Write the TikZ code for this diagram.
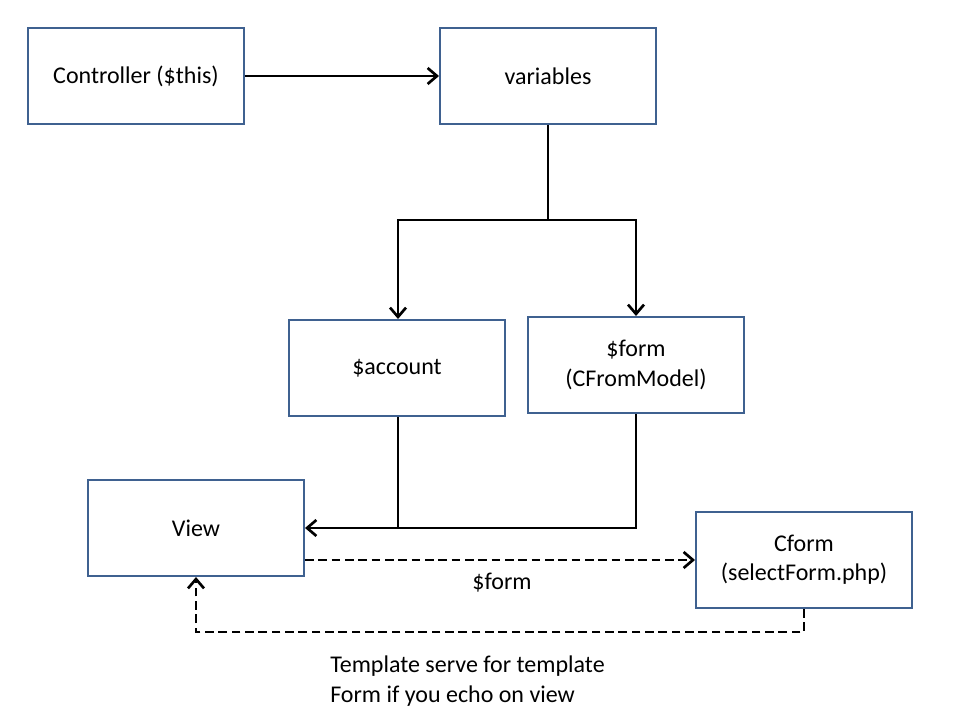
\documentclass[tikz,border=0pt]{standalone}
\usepackage{fontspec}
\setmainfont{Carlito}
\usepackage{xcolor}
\usepackage{tikz}
\usetikzlibrary{positioning, arrows.meta}

\definecolor{boxblue}{HTML}{3F6190}

\begin{document}
\begin{tikzpicture}[
        x=0.75pt, y=-0.75pt,
        % Define styles for consistency
        box/.style={draw=boxblue, line width=1.5pt, fill=white, minimum width=162pt,
            minimum height=72pt, align=center, font=\fontsize{18}{22}\selectfont},
        link/.style={black, line width=2pt, -{Straight Barb[length=7pt, width=12pt, line width=2pt]}},
        dashlink/.style={link, dash pattern=on 6.5pt off 3.5pt},
        lbl/.style={font=\fontsize{18}{22.5}\selectfont}
    ]

        % --- Frame ---
        \useasboundingbox (0,0) rectangle (960,720);

        % --- Boxes ---
        \node[box] (ctrl) at (136,76) {Controller (\$this)};
        \node[box] (vars) at (548,76) {variables};
        \node[box] (account) at (397,368) {\$account};
        \node[box] (form) at (636,365) {\$form\\(CFromModel)};
        \node[box] (view) at (196,528) {View};
        \node[box] (cform) at (804,560) {Cform\\(selectForm.php)};

        % --- Corner points ---
        \coordinate (split) at (548,220);
        \coordinate (join) at (398,528);
        \coordinate (loop) at (804,632);

        % --- Solid connectors ---
        \draw[link] (ctrl) -- (vars);
        \draw[link, -] (vars.south) -- (split);
        \draw[link] (split) -| (account.north -| join);
        \draw[link] (split) -| (form.north);
        \draw[link, -] (form.south) |- (join);
        \draw[link] (account.south -| join) |- (view.east |- join);

        % --- Dashed connectors ---
        \draw[dashlink] (view.east |- cform.west) -- (cform.west);
        \draw[dashlink] (cform.south) -- (loop) -| (view.south);

        % --- Labels ---
        \node[lbl] (flbl) at (502,583) {\$form};
        \node[lbl, align=left, anchor=north west, inner sep=0pt] (note) at (330,656)
            {Template serve for template\\Form if you echo on view};

    \end{tikzpicture}
\end{document}
